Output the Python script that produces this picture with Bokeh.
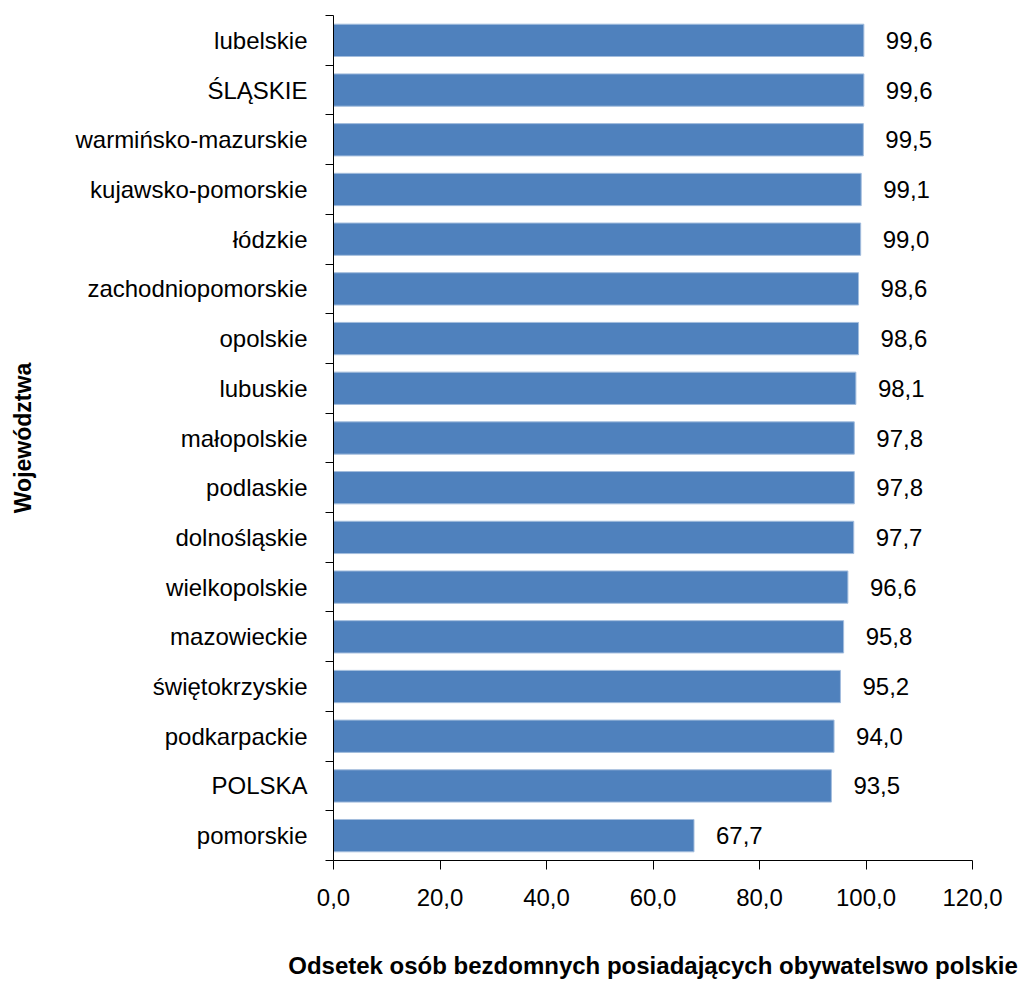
from bokeh.plotting import figure
from bokeh.models import ColumnDataSource, FixedTicker, Range1d, LabelSet
from bokeh.core.properties import value
from bokeh.embed import file_html
from bokeh.resources import INLINE

categories = ["lubelskie", "ŚLĄSKIE", "warmińsko-mazurskie", "kujawsko-pomorskie",
              "łódzkie", "zachodniopomorskie", "opolskie", "lubuskie", "małopolskie",
              "podlaskie", "dolnośląskie", "wielkopolskie", "mazowieckie",
              "świętokrzyskie", "podkarpackie", "POLSKA", "pomorskie"]
values = [99.6, 99.6, 99.5, 99.1, 99.0, 98.6, 98.6, 98.1, 97.8, 97.8, 97.7,
          96.6, 95.8, 95.2, 94.0, 93.5, 67.7]
x_ticks = [0, 20, 40, 60, 80, 100, 120]
x_tick_labels = ["0,0", "20,0", "40,0", "60,0", "80,0", "100,0", "120,0"]
x_title = "Odsetek osób bezdomnych posiadających obywatelswo polskie"
y_title = "Województwa"

n = len(categories)
ypos = [n - i for i in range(n)]
src = ColumnDataSource(dict(y=ypos, v=values, cat=categories,
                            lab=[f"{v:.1f}".replace(".", ",") for v in values]))

FONT = "Liberation Sans"

p = figure(width=1021, height=981, output_backend="svg", toolbar_location=None,
           x_range=Range1d(0, 120), y_range=Range1d(0.5, n + 0.5),
           min_border_left=333, min_border_top=15, min_border_bottom=119,
           min_border_right=49)
p.outline_line_color = None
p.xgrid.visible = False
p.ygrid.visible = False

p.hbar(y="y", right="v", left=0, height=0.65, source=src,
       fill_color="#4F81BD", line_color="#A3BDDD", line_width=1)

labels = LabelSet(x="v", y="y", text="lab", source=src, x_offset=22,
                  text_align="left", text_baseline="middle",
                  text_font=value(FONT), text_font_size="24px", text_color="black")
p.add_layout(labels)

# x axis
p.xaxis.ticker = FixedTicker(ticks=x_ticks, minor_ticks=[])
p.xaxis.major_label_overrides = {t: l for t, l in zip(x_ticks, x_tick_labels)}
p.xaxis.major_tick_out = 9
p.xaxis.major_tick_in = 0
p.xaxis.minor_tick_out = 0
p.xaxis.minor_tick_in = 0
p.xaxis.major_label_standoff = 19
p.xaxis.major_label_text_font = FONT
p.xaxis.major_label_text_font_size = "24px"
p.xaxis.major_label_text_color = "black"
p.xaxis.axis_line_color = "black"
p.xaxis.major_tick_line_color = "black"
p.xaxis.axis_label = x_title
p.xaxis.axis_label_text_font = FONT
p.xaxis.axis_label_text_font_size = "24px"
p.xaxis.axis_label_text_font_style = "bold"
p.xaxis.axis_label_text_color = "black"
p.xaxis.axis_label_standoff = 43

# y axis
p.yaxis.ticker = FixedTicker(ticks=ypos, minor_ticks=[k + 0.5 for k in range(0, n + 1)])
p.yaxis.major_label_overrides = {y: c for y, c in zip(ypos, categories)}
p.yaxis.major_tick_out = 0
p.yaxis.major_tick_in = 0
p.yaxis.minor_tick_out = 8
p.yaxis.minor_tick_in = 0
p.yaxis.minor_tick_line_color = "black"
p.yaxis.major_label_standoff = 18
p.yaxis.major_label_text_font = FONT
p.yaxis.major_label_text_font_size = "24px"
p.yaxis.major_label_text_color = "black"
p.yaxis.axis_line_color = "black"
p.yaxis.axis_label = y_title
p.yaxis.axis_label_text_font = FONT
p.yaxis.axis_label_text_font_size = "23px"
p.yaxis.axis_label_text_font_style = "bold"
p.yaxis.axis_label_text_color = "black"
p.yaxis.axis_label_standoff = 36

open("out.html", "w").write(file_html(p, INLINE))
